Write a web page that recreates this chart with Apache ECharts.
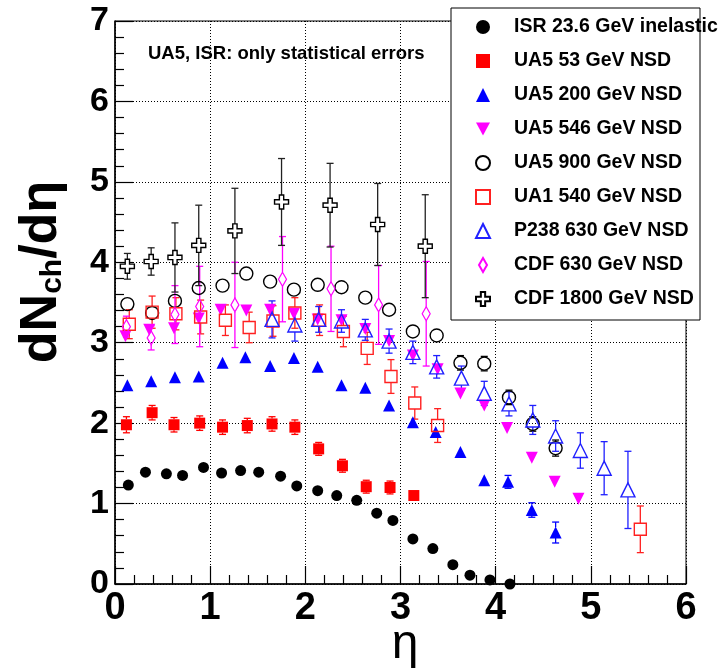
<!DOCTYPE html>
<html><head><meta charset="utf-8">
<script src="https://cdn.jsdelivr.net/npm/echarts@6/dist/echarts.min.js"></script>
<style>html,body{margin:0;padding:0;background:#fff}#c{width:721px;height:670px}</style>
</head><body><div id="c"></div>
<script>
// ---------- data ----------
const names = ['ISR 23.6 GeV inelastic','UA5 53 GeV NSD','UA5 200 GeV NSD','UA5 546 GeV NSD','UA5 900 GeV NSD','UA1 540 GeV NSD','P238 630 GeV NSD','CDF 630 GeV NSD','CDF 1800 GeV NSD'];

const isrEta = [0.14,0.32,0.54,0.71,0.93,1.12,1.32,1.51,1.74,1.91,2.13,2.33,2.54,2.75,2.92,3.13,3.34,3.55,3.73,3.94,4.15];
const isrY   = [1.23,1.39,1.37,1.35,1.45,1.38,1.41,1.39,1.34,1.22,1.16,1.10,1.04,0.88,0.79,0.56,0.44,0.24,0.11,0.05,0.00];

const ua53Eta = [0.12,0.39,0.62,0.89,1.13,1.39,1.65,1.89,2.14,2.39,2.64,2.89,3.14];
const ua53Y   = [1.98,2.13,1.98,2.00,1.95,1.97,1.99,1.95,1.68,1.47,1.21,1.20,1.10];
const ua53Err = [0.10,0.09,0.09,0.09,0.09,0.09,0.09,0.09,0.08,0.08,0.08,0.08,0.07];

const ua200Eta = [0.13,0.38,0.63,0.88,1.13,1.37,1.63,1.88,2.13,2.38,2.63,2.88,3.13,3.37,3.63,3.88,4.13,4.38,4.63];
const ua200Y   = [2.47,2.52,2.57,2.58,2.75,2.82,2.71,2.81,2.70,2.47,2.44,2.22,2.01,1.89,1.64,1.29,1.27,0.92,0.64];
const ua200Err = [0.03,0.03,0.03,0.03,0.03,0.03,0.03,0.03,0.03,0.03,0.03,0.03,0.04,0.07,0.04,0.04,0.08,0.09,0.13];

const ua546Eta = [0.11,0.36,0.62,0.88,1.11,1.38,1.63,1.88,2.13,2.38,2.63,2.88,3.13,3.39,3.63,3.88,4.12,4.38,4.62,4.87];
const ua546Y   = [3.08,3.16,3.18,3.30,3.41,3.40,3.41,3.36,3.29,3.28,3.17,3.02,2.84,2.67,2.37,2.22,1.94,1.57,1.27,1.06];
const ua546Err = [0.05,0.05,0.05,0.05,0.05,0.05,0.05,0.05,0.05,0.05,0.05,0.05,0.05,0.05,0.05,0.05,0.05,0.05,0.05,0.05];

const ua900Eta = [0.13,0.39,0.63,0.88,1.13,1.38,1.63,1.88,2.13,2.38,2.63,2.88,3.13,3.38,3.63,3.88,4.14,4.39,4.63];
const ua900Y   = [3.48,3.37,3.52,3.68,3.71,3.86,3.76,3.66,3.72,3.69,3.56,3.41,3.14,3.09,2.75,2.74,2.32,1.99,1.69];
const ua900Err = [0.04,0.04,0.04,0.04,0.04,0.04,0.04,0.04,0.04,0.04,0.04,0.04,0.05,0.05,0.09,0.09,0.09,0.09,0.10];

const ua1Eta = [0.15,0.39,0.64,0.90,1.16,1.41,1.66,1.89,2.15,2.40,2.65,2.90,3.15,3.39,5.52];
const ua1Y   = [3.23,3.38,3.36,3.32,3.28,3.19,3.27,3.37,3.28,3.14,2.93,2.58,2.25,1.97,0.68];
const ua1Err = [0.18,0.20,0.20,0.21,0.19,0.19,0.19,0.19,0.19,0.19,0.20,0.21,0.20,0.21,0.29];

const p238Eta = [1.65,1.89,2.14,2.38,2.63,2.88,3.13,3.38,3.64,3.88,4.14,4.39,4.63,4.89,5.14,5.39];
const p238Y   = [3.29,3.22,3.29,3.27,3.16,3.02,2.88,2.70,2.56,2.37,2.24,2.04,1.84,1.66,1.44,1.17];
const p238Err = [0.23,0.20,0.16,0.14,0.13,0.15,0.14,0.14,0.15,0.15,0.15,0.18,0.19,0.22,0.33,0.48];

const cdf630Eta = [0.12,0.38,0.63,0.89,1.26,1.76,2.27,2.77,3.27];
const cdf630Y   = [3.20,3.06,3.35,3.45,3.47,3.79,3.67,3.47,3.36];
const cdf630Err = [0.13,0.15,0.36,0.50,0.53,0.53,0.53,0.49,0.65];

const cdf1800Eta = [0.13,0.38,0.63,0.88,1.26,1.75,2.26,2.76,3.26];
const cdf1800Y   = [3.95,4.01,4.06,4.21,4.39,4.75,4.71,4.47,4.20];
const cdf1800Err = [0.16,0.17,0.43,0.50,0.53,0.54,0.52,0.51,0.64];

const xTicks = [0,1,2,3,4,5,6];
const yTicks = [0,1,2,3,4,5,6,7];

// ---------- chart ----------
const FONT = 'Liberation Sans';
const pts = (xs, ys) => xs.map((x, i) => [x, ys[i]]);
const CROSS = 'path://M4.5,0H8.5V4.5H13V8.5H8.5V13H4.5V8.5H0V4.5H4.5Z';
const DIAM = 'path://M4,0L8,7L4,14L0,7Z';
const DOWNTRI = 'path://M0,0L12,0L6,11Z';

function errSeries(xs, ys, es, color, gap) {
  return {
    type: 'custom', silent: true, clip: false, z: 2,
    data: xs.map((x, i) => [x, ys[i], es[i]]),
    encode: {x: 0, y: 1},
    renderItem: function (params, api) {
      const x = api.value(0), y = api.value(1), e = api.value(2);
      const c = api.coord([x, y]), t = api.coord([x, y + e]), b = api.coord([x, y - e]);
      const st = {stroke: color, lineWidth: 1.3};
      const hw = 3.5, ch = [];
      if (c[1] - gap > t[1] + 0.5) {
        ch.push({type: 'line', shape: {x1: c[0], y1: c[1] - gap, x2: c[0], y2: t[1]}, style: st});
        ch.push({type: 'line', shape: {x1: c[0] - hw, y1: t[1], x2: c[0] + hw, y2: t[1]}, style: st});
      }
      if (b[1] > c[1] + gap + 0.5) {
        ch.push({type: 'line', shape: {x1: c[0], y1: c[1] + gap, x2: c[0], y2: b[1]}, style: st});
        ch.push({type: 'line', shape: {x1: c[0] - hw, y1: b[1], x2: c[0] + hw, y2: b[1]}, style: st});
      }
      return {type: 'group', children: ch};
    }
  };
}

function sc(name, data, symbol, size, itemStyle, extra) {
  return Object.assign({type: 'scatter', name: name, data: data, symbol: symbol, symbolSize: size,
    itemStyle: Object.assign({opacity: 1}, itemStyle), z: 3, emphasis: {disabled: true}}, extra || {});
}

const open = (c, w) => ({color: 'rgba(0,0,0,0)', borderColor: c, borderWidth: w || 1.4});

const series = [
  sc(names[0], pts(isrEta, isrY), 'circle', 11, {color: '#000'}),
  errSeries(ua53Eta, ua53Y, ua53Err, '#ff0000', 5.5),
  sc(names[1], pts(ua53Eta, ua53Y), 'rect', 11, {color: '#ff0000'}),
  errSeries(ua200Eta, ua200Y, ua200Err, '#0000ff', 5.5),
  sc(names[2], pts(ua200Eta, ua200Y), 'triangle', 12, {color: '#0000ff'}),
  errSeries(ua546Eta, ua546Y, ua546Err, '#ff00ff', 5.5),
  sc(names[3], pts(ua546Eta, ua546Y), DOWNTRI, 12, {color: '#ff00ff'}),
  errSeries(ua900Eta, ua900Y, ua900Err, '#000', 6.5),
  sc(names[4], pts(ua900Eta, ua900Y), 'circle', 13, open('#000')),
  errSeries(ua1Eta, ua1Y, ua1Err, '#ff2020', 6),
  sc(names[5], pts(ua1Eta, ua1Y), 'rect', 12, open('#ff2020')),
  errSeries(p238Eta, p238Y, p238Err, '#2020ff', 7),
  sc(names[6], pts(p238Eta, p238Y), 'triangle', 14, open('#2020ff')),
  errSeries(cdf630Eta, cdf630Y, cdf630Err, '#ff00ff', 7),
  sc(names[7], pts(cdf630Eta, cdf630Y), DIAM, 14, open('#ff00ff', 1.2), {symbolKeepAspect: true}),
  errSeries(cdf1800Eta, cdf1800Y, cdf1800Err, '#222', 7),
  sc(names[8], pts(cdf1800Eta, cdf1800Y), CROSS, 14, {color: '#fff', borderColor: '#000', borderWidth: 1.4})
];

const axisCommon = {
  type: 'value',
  axisLine: {show: true, lineStyle: {color: '#000', width: 1.5}},
  axisTick: {show: true, inside: true, length: 18, lineStyle: {color: '#000', width: 1.2}},
  minorTick: {show: true, splitNumber: 5, length: 9, lineStyle: {color: '#000', width: 1.2}},
  splitLine: {show: true, lineStyle: {color: '#000', type: [1, 2], width: 1}},
  minorSplitLine: {show: false}
};

const chart = echarts.init(document.getElementById('c'), null, {renderer: 'canvas'});
chart.setOption({
  animation: false,
  backgroundColor: '#fff',
  textStyle: {fontFamily: FONT},
  grid: {left: 115, right: 35, top: 21, bottom: 86, show: true, borderColor: '#000', borderWidth: 1, backgroundColor: 'transparent'},
  xAxis: Object.assign({}, axisCommon, {
    min: xTicks[0], max: xTicks[xTicks.length - 1], interval: 1,
    axisLabel: {fontSize: 38, fontWeight: 'bold', color: '#000', margin: 6, fontFamily: FONT,
      formatter: v => xTicks.includes(v) ? String(v) : ''}
  }),
  yAxis: Object.assign({}, axisCommon, {
    min: yTicks[0], max: yTicks[yTicks.length - 1], interval: 1,
    axisLabel: {fontSize: 34, fontWeight: 'bold', color: '#000', margin: 6, fontFamily: FONT,
      formatter: v => yTicks.includes(v) ? String(v) : ''}
  }),
  legend: {
    data: names, orient: 'vertical', left: 475, top: 17, padding: 0,
    itemWidth: 14, itemHeight: 14, itemGap: 14, z: 20,
    symbolKeepAspect: true, selectedMode: false,
    textStyle: {fontSize: 19.5, fontWeight: 'bold', color: '#000', fontFamily: FONT, lineHeight: 20, padding: [0, 0, 0, 19]}
  },
  graphic: [
    {type: 'rect', z: 10, shape: {x: 451, y: 8, width: 249, height: 312},
      style: {fill: '#fff', stroke: '#000', lineWidth: 1}},
    {type: 'text', z: 10, x: 148, y: 54,
      style: {text: 'UA5, ISR: only statistical errors', fontSize: 18.5, fontWeight: 'bold', fontFamily: FONT, fill: '#000', verticalAlign: 'middle'}},
    {type: 'text', z: 10, x: 405, y: 645,
      style: {text: 'η', fontSize: 48, fontFamily: FONT, fill: '#000', align: 'center', verticalAlign: 'middle'}},
    {type: 'text', z: 10, x: 42, y: 272, rotation: Math.PI / 2,
      style: {text: '{a|dN}{b|ch}{a|/dη}', align: 'center', verticalAlign: 'middle',
        rich: {a: {fontSize: 52, fontWeight: 'bold', fontFamily: FONT, fill: '#000', lineHeight: 52},
               b: {fontSize: 30, fontWeight: 'bold', fontFamily: FONT, fill: '#000', lineHeight: 18, verticalAlign: 'bottom'}}}}
  ],
  series: series
});
</script>
</body></html>
